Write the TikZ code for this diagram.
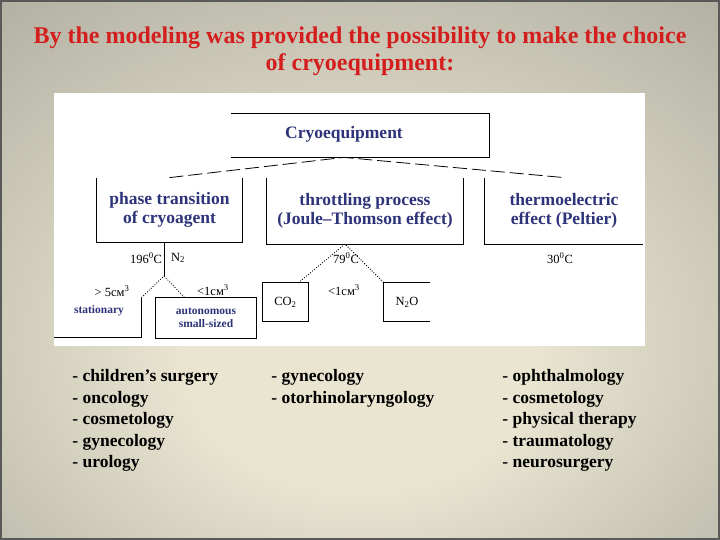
\documentclass[tikz,border=0pt]{standalone}
\usepackage{fontspec}
\setmainfont{Liberation Serif}
\definecolor{titlered}{HTML}{D41E1E}
\definecolor{boxblue}{HTML}{2E3479}
\definecolor{bgin}{HTML}{E9E5D1}
\definecolor{bgmid}{HTML}{B0AEA1}
\definecolor{bgout}{HTML}{84847B}
\pgfdeclareradialshading{bgshade}{\pgfpoint{0bp}{-10bp}}{color(0bp)=(bgin); color(12bp)=(bgin); color(40bp)=(bgmid); color(72bp)=(bgout)}
\begin{document}
\begin{tikzpicture}[x=1pt,y=-1pt,line width=0.8pt,
  every node/.style={align=center,inner sep=0pt},
  head/.style={text=boxblue,font=\bfseries\fontsize{17.5}{19}\selectfont},
  tiny/.style={text=boxblue,font=\bfseries\fontsize{11.5}{13}\selectfont},
  lab/.style={font=\fontsize{12.5}{14}\selectfont},
  item/.style={anchor=north west,align=left,font=\bfseries\fontsize{17.5}{21.5}\selectfont},
  branch/.style={dash pattern=on 14pt off 5pt},
  twig/.style={dash pattern=on 1pt off 1.6pt}]
  % background and frame
  \shade[shading=bgshade] (0,0) rectangle (720,540);
  \draw[black!65,line width=2pt] (1,1) rectangle (719,539);
  \fill[white] (54,93) rectangle (645,346);
  \node[text=titlered,font=\bfseries\fontsize{24}{27}\selectfont] (title) at (360,51)
    {By the modeling was provided the possibility to make the choice\\of cryoequipment:};
  % diagram
  \node[minimum width=257,minimum height=43] (cryo) at (360,135.5) {};
  \node[head] (cryotxt) at (344,134) {Cryoequipment};
  \node[head,minimum width=145,minimum height=64] (phase) at (169.5,210) {phase transition\\of cryoagent};
  \node[head,minimum width=196,minimum height=66] (throt) at (365,211) {throttling process\\(Joule--Thomson effect)};
  \node[head,minimum width=158,minimum height=66] (thermo) at (564,211) {thermoelectric\\effect (Peltier)};
  \coordinate (apex) at (cryotxt |- cryo.south);
  \draw (cryo.north west) -- (cryo.north east) -- (cryo.south east) -- (cryo.south west);
  \draw (phase.north west) -- (phase.south west) -- (phase.south east) -- (phase.north east);
  \draw (throt.north west) -- (throt.south west) -- (throt.south east) -- (throt.north east);
  \draw (thermo.north west) -- (thermo.south west) -- (thermo.south east);
  \draw[branch] (phase.north) -- (apex) -- (thermo.north);
  % phase transition branch
  \node[lab] (t196) at (146,258) {196\textsuperscript{0}C};
  \node[lab] (n2) at (178,258) {N\textsubscript{2}};
  \node[lab] (big) at (112,291) {> 5см\textsuperscript{3}};
  \node[lab] (less1) at (213,290) {<1см\textsuperscript{3}};
  \node[tiny,minimum width=87,minimum height=39] (stat) at (97.5,317.5) {};
  \node[tiny] (stattxt) at (99,311) {stationary};
  \node[tiny,minimum width=100,minimum height=40] (auto) at (206,318) {autonomous\\small-sized};
  \coordinate (fork1) at (164,276);
  \coordinate (a1) at (185,298);
  \draw (fork1 |- phase.south) -- (fork1);
  \draw[twig] (stat.north east) -- (fork1) -- (a1);
  \draw (stat.north east) -- (stat.south east) -- (stat.south west);
  \draw (auto.north west) rectangle (auto.south east);
  % throttling branch
  \node[lab] (t79) at (346,258) {79\textsuperscript{0}C};
  \node[lab] (less2) at (344,290) {<1см\textsuperscript{3}};
  \node[lab,minimum width=45,minimum height=38] (co2) at (285.5,302) {CO\textsubscript{2}};
  \node[lab,minimum width=46,minimum height=38] (n2o) at (407,302) {N\textsubscript{2}O};
  \coordinate (fork2) at (345,244);
  \coordinate (c1) at (298,283);
  \draw (co2.north west) rectangle (co2.south east);
  \draw (n2o.north east) -- (n2o.north west) -- (n2o.south west) -- (n2o.south east);
  \draw[twig] (c1) -- (fork2) -- (n2o.north west);
  % thermoelectric branch
  \node[lab] (t30) at (560,258) {30\textsuperscript{0}C};
  % applications
  \node[item] (list1) at (72,369) {- children's surgery\\- oncology\\- cosmetology\\- gynecology\\- urology};
  \node[item] (list2) at (271,369) {- gynecology\\- otorhinolaryngology};
  \node[item] (list3) at (502,369) {- ophthalmology\\- cosmetology\\- physical therapy\\- traumatology\\- neurosurgery};
\end{tikzpicture}
\end{document}
